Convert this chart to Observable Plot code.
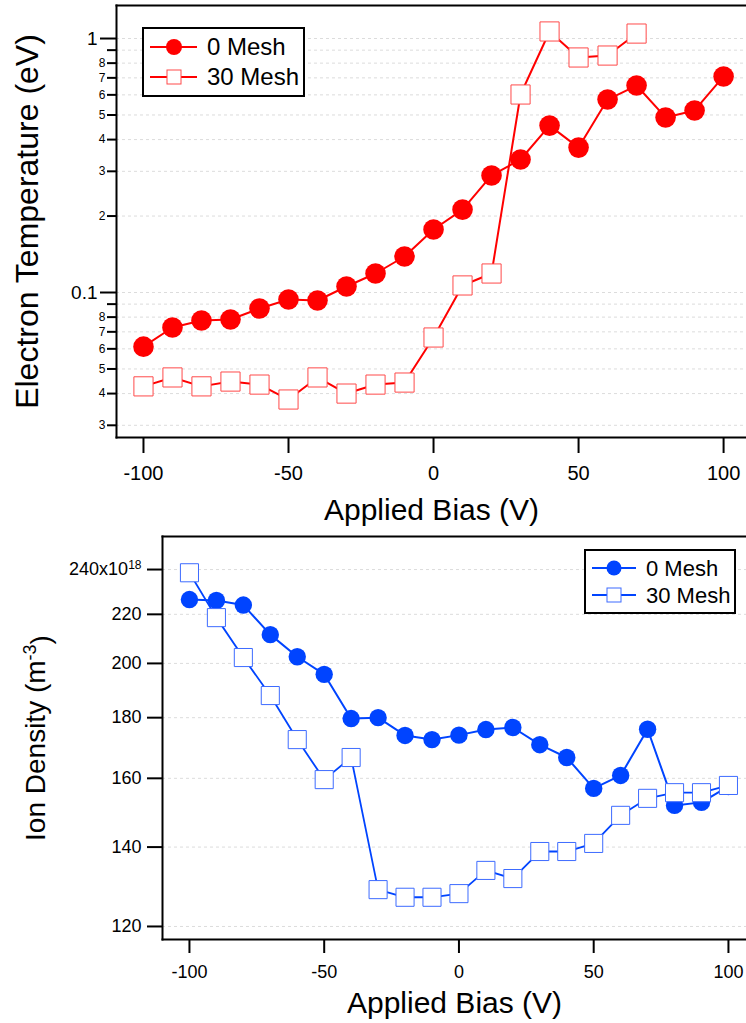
<!DOCTYPE html>
<html>
<head>
<meta charset="utf-8">
<script src="https://cdn.jsdelivr.net/npm/d3@7"></script>
<script src="https://cdn.jsdelivr.net/npm/@observablehq/plot@0.6"></script>
<style>
  html, body { margin: 0; padding: 0; background: white; }
  #wrap { position: relative; width: 746px; height: 1023px; overflow: hidden; font-family: "Liberation Sans", Arial, sans-serif; }
  .legend { position: absolute; }
  svg { display: block; }
</style>
</head>
<body>
<div id="wrap"></div>
<script>
// ---------- data ----------
const bias = [-100, -90, -80, -70, -60, -50, -40, -30, -20, -10, 0, 10, 20, 30, 40, 50, 60, 70, 80, 90, 100];
const bias30Te = [-100, -90, -80, -70, -60, -50, -40, -30, -20, -10, 0, 10, 20, 30, 40, 50, 60, 70];

const te0Mesh = [0.0612, 0.0728, 0.0776, 0.0783, 0.0865, 0.0938, 0.0930, 0.1056, 0.1188, 0.1386, 0.177,
                 0.212, 0.289, 0.334, 0.454, 0.372, 0.575, 0.653, 0.489, 0.521, 0.709];
const te30Mesh = [0.0427, 0.0463, 0.0427, 0.0446, 0.0434, 0.0379, 0.0463, 0.0400, 0.0434, 0.0442, 0.0665,
                  0.1066, 0.1188, 0.602, 1.066, 0.842, 0.857, 1.046];

const ni0Mesh = [226.4, 226.0, 224.0, 211.5, 202.6, 195.8, 179.7, 180.0, 173.9, 172.5, 174.0,
                 175.9, 176.6, 170.8, 166.6, 156.9, 160.9, 176.0, 151.8, 152.7, 157.5];
const ni30Mesh = [238.5, 218.6, 202.3, 187.9, 172.5, 159.6, 166.6, 128.9, 127.0, 127.0, 127.9,
                  133.8, 131.7, 138.8, 138.8, 141.0, 148.9, 153.9, 155.6, 155.6, 157.8];

const xTicks = [-100, -50, 0, 50, 100];
const teMajorTicks = [0.1, 1];
const teMajorLabels = ["0.1", "1"];
const teMinorTicks = [0.03, 0.04, 0.05, 0.06, 0.07, 0.08, 0.09, 0.2, 0.3, 0.4, 0.5, 0.6, 0.7, 0.8, 0.9];
const teMinorLabels = ["3", "4", "5", "6", "7", "8", "", "2", "3", "4", "5", "6", "7", "8", ""];
const niTicks = [120, 140, 160, 180, 200, 220, 240];
const niLabels = ["120", "140", "160", "180", "200", "220", "240x10"];

const seriesNames = ["0 Mesh", "30 Mesh"];
const titles = {
  teY: "Electron Temperature (eV)",
  x: "Applied Bias (V)",
  niY: "Ion Density (m",
  niYsup: "-3",
};

// ---------- tables ----------
const teA = bias.map((x, i) => ({x, y: te0Mesh[i]}));
const teB = bias30Te.map((x, i) => ({x, y: te30Mesh[i]}));
const niA = bias.map((x, i) => ({x, y: ni0Mesh[i]}));
const niB = bias.map((x, i) => ({x, y: ni30Mesh[i]}));
const minorLabelRows = teMinorTicks.map((v, i) => ({v, label: teMinorLabels[i]}));
const majorLabelRows = teMajorTicks.map((v, i) => ({v, label: teMajorLabels[i]}));

const RED = "#ff0000";
const RED_EDGE = "#ff4a4a";
const BLUE = "#0044ff";
const BLUE_EDGE = "#3d6bff";
const FONT = "'Liberation Sans', Arial, sans-serif";
const GRID = "#dcdcdc";

const niMap = new Map(niTicks.map((d, i) => [d, niLabels[i]]));

// ---------- top chart ----------
const chartTe = Plot.plot({
  width: 746, height: 530,
  marginLeft: 116, marginRight: 0, marginTop: 5, marginBottom: 93,
  style: {fontFamily: FONT, background: "white", overflow: "visible"},
  x: {domain: [-109.3, 107.9]},
  y: {type: "log", domain: [0.02686, 1.349]},
  marks: [
    Plot.gridY([...teMajorTicks, ...teMinorTicks], {stroke: GRID, strokeOpacity: 1, strokeWidth: 1, strokeDasharray: "3,3"}),
    Plot.frame({anchor: "top", strokeWidth: 2}),
    Plot.frame({anchor: "left", strokeWidth: 2}),
    Plot.frame({anchor: "bottom", strokeWidth: 2}),
    Plot.axisX(xTicks, {tickSize: 16, tickPadding: 12, fontSize: 20, strokeWidth: 2, label: null, tickFormat: d => String(d)}),
    Plot.axisY(teMajorTicks, {tickSize: 16, strokeWidth: 2, label: null, tickFormat: () => ""}),
    Plot.axisY(teMinorTicks, {tickSize: 9, strokeWidth: 2, label: null, tickFormat: () => ""}),
    Plot.text(majorLabelRows, {y: "v", text: "label", frameAnchor: "left", dx: -19, textAnchor: "end", fontSize: 19}),
    Plot.text(minorLabelRows, {y: "v", text: "label", frameAnchor: "left", dx: -11, textAnchor: "end", fontSize: 12}),
    Plot.text([titles.teY], {frameAnchor: "left", rotate: -90, dx: -89, textAnchor: "middle", lineAnchor: "middle", fontSize: 32, text: d => d}),
    Plot.text([titles.x], {frameAnchor: "bottom", dy: 73, textAnchor: "middle", lineAnchor: "middle", fontSize: 30, text: d => d}),
    Plot.line(teA, {x: "x", y: "y", stroke: RED, strokeWidth: 2}),
    Plot.dot(teA, {x: "x", y: "y", r: 10.3, fill: RED, stroke: "none"}),
    Plot.line(teB, {x: "x", y: "y", stroke: RED, strokeWidth: 2}),
    Plot.dot(teB, {x: "x", y: "y", symbol: "square", r: 10.8, fill: "white", stroke: RED_EDGE, strokeWidth: 1})
  ]
});

// ---------- bottom chart ----------
const chartNi = Plot.plot({
  width: 746, height: 493,
  marginLeft: 162, marginRight: 0, marginTop: 6, marginBottom: 84,
  style: {fontFamily: FONT, background: "white", overflow: "visible"},
  x: {domain: [-110, 106.7]},
  y: {type: "log", domain: [117.0, 255.9]},
  marks: [
    Plot.gridY(niTicks, {stroke: GRID, strokeOpacity: 1, strokeWidth: 1, strokeDasharray: "3,3"}),
    Plot.frame({anchor: "top", strokeWidth: 2}),
    Plot.frame({anchor: "left", strokeWidth: 2}),
    Plot.frame({anchor: "bottom", strokeWidth: 2}),
    Plot.axisX(xTicks, {tickSize: 14, tickPadding: 12, fontSize: 18, strokeWidth: 2, label: null, tickFormat: d => String(d)}),
    Plot.axisY(niTicks, {tickSize: 15, tickPadding: 6, fontSize: 18, strokeWidth: 2, label: null, tickFormat: d => niMap.get(d)}),
    Plot.text([titles.niY], {frameAnchor: "left", rotate: -90, dx: -126, textAnchor: "middle", lineAnchor: "middle", fontSize: 28, text: d => d}),
    Plot.text([titles.x], {frameAnchor: "bottom", dy: 64, textAnchor: "middle", lineAnchor: "middle", fontSize: 30, text: d => d}),
    Plot.line(niA, {x: "x", y: "y", stroke: BLUE, strokeWidth: 2}),
    Plot.dot(niA, {x: "x", y: "y", r: 8.7, fill: BLUE, stroke: "none"}),
    Plot.line(niB, {x: "x", y: "y", stroke: BLUE, strokeWidth: 1.8}),
    Plot.dot(niB, {x: "x", y: "y", symbol: "square", r: 10.2, fill: "white", stroke: BLUE_EDGE, strokeWidth: 1})
  ]
});

// superscripts
const NS = "http://www.w3.org/2000/svg";
chartNi.querySelectorAll("text").forEach(t => {
  if (t.textContent === "240x10") {
    const s = document.createElementNS(NS, "tspan");
    s.setAttribute("dy", "-0.55em");
    s.setAttribute("font-size", "12");
    s.textContent = "18";
    t.appendChild(s);
  } else if (t.textContent === titles.niY) {
    const s = document.createElementNS(NS, "tspan");
    s.setAttribute("dy", "-0.5em");
    s.setAttribute("font-size", "18");
    s.textContent = titles.niYsup;
    t.appendChild(s);
    const c = document.createElementNS(NS, "tspan");
    c.setAttribute("dy", "0.5em");
    c.textContent = ")";
    t.appendChild(c);
  }
});

const wrap = document.getElementById("wrap");
wrap.appendChild(chartTe);
wrap.appendChild(chartNi);

// ---------- legends ----------
function legend(left, topPx, w, h, color, edge, rows, lineX0, lineX1, markX, r, sq, textX, fs) {
  const svg = d3.create("svg").attr("class", "legend").attr("width", w).attr("height", h)
    .style("left", left + "px").style("top", topPx + "px");
  svg.append("rect").attr("x", 1).attr("y", 1).attr("width", w - 2).attr("height", h - 2)
    .attr("fill", "white").attr("stroke", "black").attr("stroke-width", 2);
  rows.forEach((ry, i) => {
    svg.append("line").attr("x1", lineX0).attr("x2", lineX1).attr("y1", ry).attr("y2", ry)
      .attr("stroke", color).attr("stroke-width", 2);
    if (i === 0) {
      svg.append("circle").attr("cx", markX).attr("cy", ry).attr("r", r).attr("fill", color);
    } else {
      svg.append("rect").attr("x", markX - sq / 2).attr("y", ry - sq / 2).attr("width", sq).attr("height", sq)
        .attr("fill", "white").attr("stroke", edge).attr("stroke-width", 1);
    }
    svg.append("text").attr("x", textX).attr("y", ry).attr("dy", "0.35em")
      .attr("font-family", FONT).attr("font-size", fs).text(seriesNames[i]);
  });
  wrap.appendChild(svg.node());
}
legend(142, 27, 163, 70, RED, RED_EDGE, [20, 50], 8, 55, 32, 8, 14, 65, 24);
legend(584, 549, 152, 65, BLUE, BLUE_EDGE, [19, 46], 8, 52, 30, 7.5, 14, 62, 22);
</script>
</body>
</html>
